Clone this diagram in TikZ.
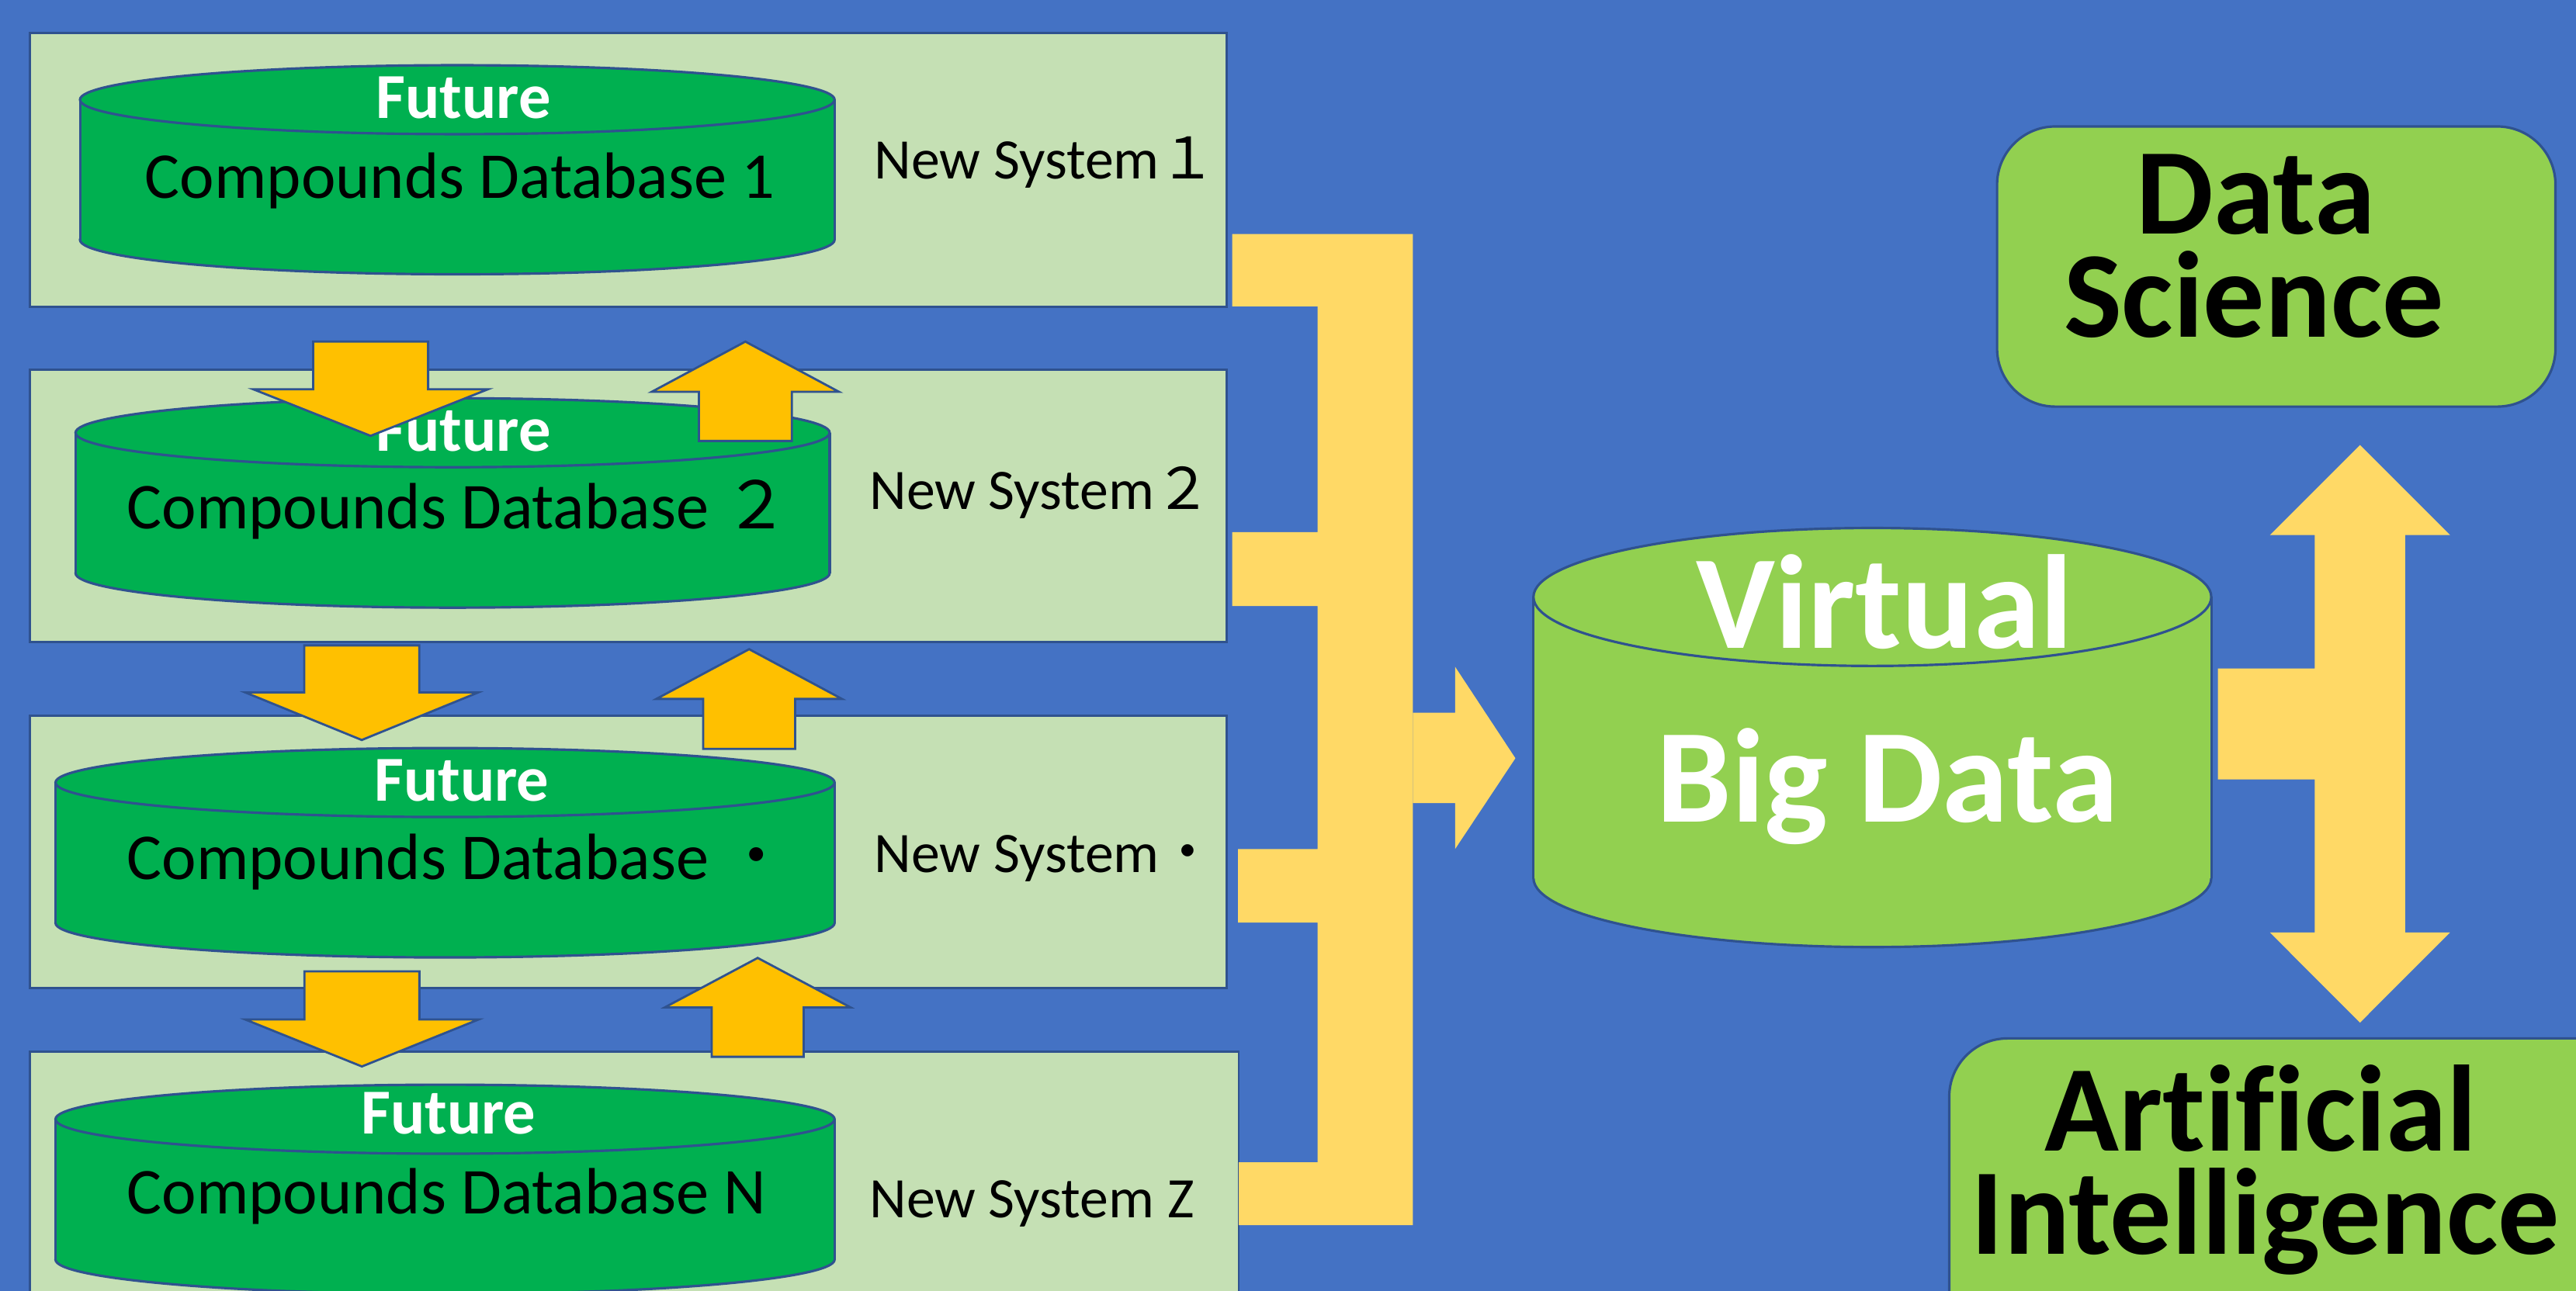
\documentclass[tikz,border=0pt]{standalone}
\usepackage{fontspec}
\setmainfont{Carlito}[Ligatures=NoCommon]
\newfontfamily\cjk{Noto Sans CJK JP}

\definecolor{slide}{HTML}{4472C4}
\definecolor{panelgreen}{HTML}{C5E0B4}
\definecolor{dbgreen}{HTML}{00B050}
\definecolor{bigdata}{HTML}{92D050}
\definecolor{edgeblue}{HTML}{2F528F}
\definecolor{amber}{HTML}{FFC000}
\definecolor{sand}{HTML}{FFD966}

\tikzset{
  panel/.style={fill=panelgreen, draw=edgeblue, line width=0.8pt},
  drumline/.style={draw=edgeblue, line width=0.9pt},
  flow/.style={fill=amber, draw=edgeblue, line width=0.8pt, line join=miter},
  bus/.style={fill=sand},
  topic/.style={fill=bigdata, draw=edgeblue, line width=0.9pt, rounded corners=0.75cm},
  dbtitle/.style={inner sep=0pt, anchor=base, text=white,
    font=\bfseries\fontsize{23.5}{28}\selectfont},
  dbname/.style={inner sep=0pt, anchor=base west,
    font=\fontsize{24}{29}\selectfont},
  sysname/.style={inner sep=0pt, anchor=base west,
    font=\fontsize{21}{25}\selectfont},
  bigword/.style={inner sep=0pt, anchor=base, text=white,
    font=\bfseries\fontsize{49}{58}\selectfont},
  topicword/.style={inner sep=0pt, anchor=base,
    font=\bfseries\fontsize{45}{54}\selectfont}
}

% drum: fill, x left, x right, y top, y bottom, half height of the lid
\newcommand{\drum}[6]{%
  \pgfmathsetmacro{\drumcx}{(#2+#3)/2}
  \pgfmathsetmacro{\drumrx}{(#3-#2)/2}
  \pgfmathsetmacro{\drumyt}{#4+#6}
  \pgfmathsetmacro{\drumyb}{#5-#6}
  \filldraw[drumline, fill=#1] (\drumcx,\drumyb) ellipse [x radius=\drumrx, y radius=#6];
  \fill[#1] (#2,\drumyt) rectangle (#3,\drumyb);
  \draw[drumline] (#2,\drumyt) -- (#2,\drumyb) (#3,\drumyt) -- (#3,\drumyb);
  \filldraw[drumline, fill=#1] (\drumcx,\drumyt) ellipse [x radius=\drumrx, y radius=#6];
}

\begin{document}
\begin{tikzpicture}[x=0.021167cm, y=-0.021167cm]

  % Achtergrond
  \useasboundingbox (0,0) rectangle (1568,786);
  \clip (0,0) rectangle (1568,786);
  \fill[slide] (0,0) rectangle (1568,786);

  % Systemen
  \draw[panel] (18,20.2)  rectangle (746.5,186.8);
  \draw[panel] (18,225.2) rectangle (746.5,391);
  \draw[panel] (18,436)   rectangle (746.5,601.6);
  \draw[panel] (18,640.5) rectangle (754,820);

  % Databases
  \drum{dbgreen}{48.7}{508}{39.7}{167}{21}
  \drum{dbgreen}{46}{505}{242.5}{370}{21}
  \drum{dbgreen}{33.8}{508}{455.5}{583}{21}
  \drum{dbgreen}{33.8}{508}{660.5}{788}{21}

  % Teksten
  \node[dbtitle] (fut1) at (282,72.1)  {Future};
  \node[dbtitle] (fut2) at (282,274.8) {Future};
  \node[dbtitle] (fut3) at (281,487.8) {Future};
  \node[dbtitle] (fut4) at (273,690.6) {Future};

  \node[dbname] (db1) at (88,120.5) {Compounds Database 1};
  \node[dbname] (db2) at (77,322)   {Compounds Database {\cjk ２}};
  \node[dbname] (db3) at (77,535.7) {Compounds Database {\cjk ・}};
  \node[dbname] (db4) at (77,739)   {Compounds Database N};

  \node[sysname] (sys1) at (532,108.7) {New System{\cjk １}};
  \node[sysname] (sys2) at (529,310.2) {New System{\cjk ２}};
  \node[sysname] (sys3) at (532,531.4) {New System{\cjk ・}};
  \node[sysname] (sys4) at (529,741.5) {New System Z};

  % Verzamelbalk
  \fill[bus]
    (750,142.5) rectangle (860,186.6)
    (802,142.5) rectangle (860,746)
    (750,324)   rectangle (802,369)
    (753.6,517) rectangle (802,561.8)
    (754,707.7) rectangle (802,746);
  \fill[bus]
    (860,434) -- (885.7,434) -- (885.7,406) -- (922.4,461.7)
    -- (885.7,517) -- (885.7,489) -- (860,489) -- cycle;

  % Virtuele big data
  \drum{bigdata}{933.4}{1346}{321.5}{576.7}{42}
  \node[bigword] (virt) at (1147,394.5) {Virtual};
  \node[bigword] (big)  at (1149,500.5) {Big Data};

  % Dubbele pijl
  \fill[bus]
    (1350,407) rectangle (1409,474.6)
    (1436.5,271) -- (1491.3,325.8) -- (1464,325.8) -- (1464,567.8)
    -- (1491.3,567.8) -- (1436.5,622.7) -- (1381.7,567.8) -- (1409,567.8)
    -- (1409,325.8) -- (1381.7,325.8) -- cycle;

  % Toepassingen
  \draw[topic] (1215.6,77) rectangle (1555.5,247.6);
  \node[topicword] (ds1) at (1373,142.5) {Data};
  \node[topicword] (ds2) at (1372,205.5) {Science};

  \draw[topic] (1186.5,632.3) rectangle (1620,860);
  \node[topicword] (ai1) at (1376,700.7) {Artificial};
  \node[topicword] (ai2) at (1379,763.8) {Intelligence};

  % Uitwisseling tussen databases
  \foreach \cx/\ya/\yb/\yc/\ws/\wh in {
      225.6/208/237/265.4/35/71.5,
      220.2/393/421.6/450.6/35/71,
      220.3/591.5/620.8/649.4/35/71,
      453.7/268.5/238.6/208/28.3/57,
      456/456/425.6/395.3/28/56.5,
      461.2/643.5/613.4/583.3/28/56.5}
    \draw[flow] (\cx-\ws,\ya) -- (\cx+\ws,\ya) -- (\cx+\ws,\yb) -- (\cx+\wh,\yb)
      -- (\cx,\yc) -- (\cx-\wh,\yb) -- (\cx-\ws,\yb) -- cycle;

\end{tikzpicture}
\end{document}
